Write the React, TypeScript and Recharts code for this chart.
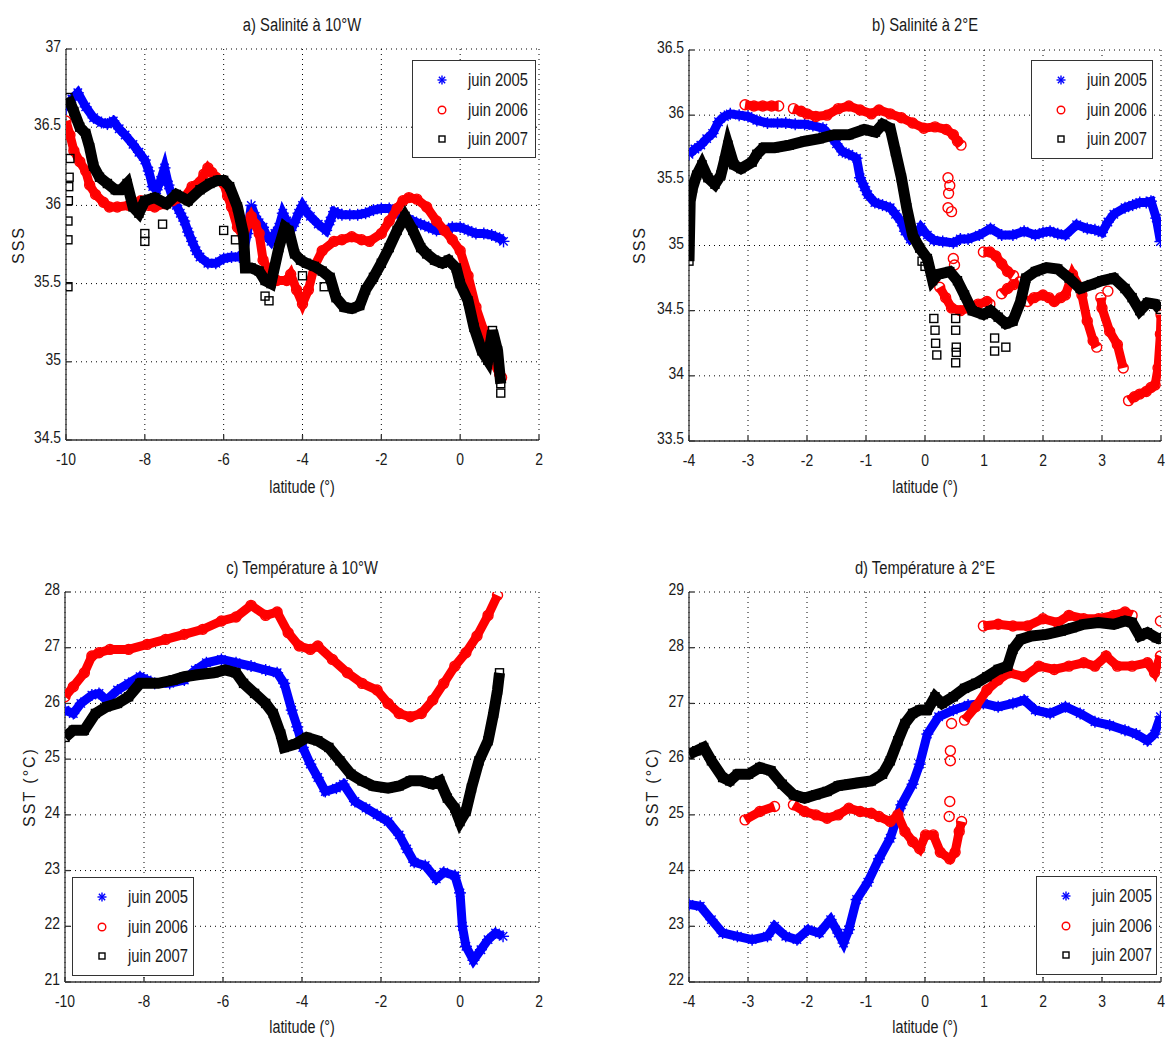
import React from 'react'
import { ScatterChart, Scatter, XAxis, YAxis, CartesianGrid } from 'recharts'

type Pt = [number, number]

// tick values
const latTicksWide = [-10, -8, -6, -4, -2, 0, 2]
const latTicksNarrow = [-4, -3, -2, -1, 0, 1, 2, 3, 4]
const sssTicksA = [34.5, 35, 35.5, 36, 36.5, 37]
const sssTicksB = [33.5, 34, 34.5, 35, 35.5, 36, 36.5]
const sstTicksC = [21, 22, 23, 24, 25, 26, 27, 28]
const sstTicksD = [22, 23, 24, 25, 26, 27, 28, 29]

const legendLabels = ['juin 2005', 'juin 2006', 'juin 2007']

// a) Salinité à 10°W
const sa05: Pt[] = [[-10,36.62],[-9.85,36.68],[-9.7,36.72],[-9.5,36.63],[-9.3,36.56],[-9.1,36.53],[-8.95,36.52],[-8.8,36.54],[-8.65,36.49],[-8.5,36.45],[-8.3,36.39],[-8.15,36.34],[-8.0,36.29],[-7.9,36.22],[-7.8,36.12],[-7.7,36.1],[-7.6,36.16],[-7.5,36.24],[-7.4,36.13],[-7.3,36.05],[-7.2,36.0],[-7.1,35.95],[-7.0,35.9],[-6.9,35.83],[-6.8,35.77],[-6.7,35.71],[-6.6,35.67],[-6.4,35.63],[-6.2,35.63],[-6.0,35.66],[-5.8,35.67],[-5.6,35.67],[-5.5,35.7],[-5.4,35.82],[-5.3,36.0],[-5.2,35.93],[-5.1,35.89],[-5.0,35.86],[-4.9,35.8],[-4.8,35.77],[-4.7,35.82],[-4.6,35.86],[-4.5,35.95],[-4.4,35.9],[-4.3,35.84],[-4.2,35.89],[-4.1,35.95],[-4.0,36.0],[-3.9,35.96],[-3.8,35.93],[-3.6,35.88],[-3.4,35.84],[-3.3,35.9],[-3.2,35.96],[-3.1,35.95],[-3.0,35.94],[-2.8,35.94],[-2.6,35.94],[-2.4,35.95],[-2.2,35.97],[-2.0,35.98],[-1.8,35.98],[-1.6,35.95],[-1.4,35.93],[-1.2,35.9],[-1.0,35.88],[-0.8,35.86],[-0.6,35.84],[-0.4,35.84],[-0.2,35.86],[0,35.86],[0.2,35.84],[0.4,35.82],[0.6,35.82],[0.8,35.81],[1.0,35.79],[1.1,35.77]]
const sa06: Pt[] = [[-10,36.54],[-9.9,36.45],[-9.8,36.35],[-9.65,36.28],[-9.5,36.22],[-9.4,36.13],[-9.25,36.07],[-9.05,36.02],[-8.9,35.99],[-8.7,35.99],[-8.4,36.0],[-8.1,36.03],[-7.9,36.0],[-7.75,35.99],[-7.5,36.01],[-7.3,36.03],[-7.0,36.05],[-6.8,36.12],[-6.6,36.15],[-6.5,36.2],[-6.4,36.24],[-6.3,36.21],[-6.2,36.18],[-6.0,36.14],[-5.9,36.06],[-5.8,35.99],[-5.65,35.86],[-5.5,35.8],[-5.4,35.88],[-5.3,35.93],[-5.2,35.88],[-5.1,35.82],[-5.0,35.65],[-4.85,35.58],[-4.65,35.52],[-4.4,35.52],[-4.3,35.56],[-4.15,35.46],[-4.0,35.37],[-3.85,35.46],[-3.7,35.61],[-3.5,35.71],[-3.2,35.77],[-3.0,35.78],[-2.75,35.8],[-2.5,35.78],[-2.3,35.77],[-2.0,35.82],[-1.8,35.9],[-1.6,35.98],[-1.45,36.03],[-1.3,36.05],[-1.1,36.04],[-0.85,35.99],[-0.6,35.9],[-0.4,35.84],[-0.2,35.78],[0,35.71],[0.2,35.55],[0.4,35.35],[0.6,35.2],[0.8,35.02],[1.0,34.92],[1.05,34.9]]
const sa07: Pt[] = [[-9.95,36.69],[-9.8,36.6],[-9.65,36.5],[-9.5,36.46],[-9.4,36.37],[-9.3,36.25],[-9.15,36.18],[-8.95,36.14],[-8.75,36.1],[-8.6,36.1],[-8.45,36.14],[-8.3,35.99],[-8.15,35.95],[-8.0,36.03],[-7.75,36.05],[-7.45,36.01],[-7.2,36.07],[-6.9,36.03],[-6.6,36.1],[-6.35,36.14],[-6.15,36.16],[-6.0,36.16],[-5.85,36.12],[-5.65,35.99],[-5.5,35.82],[-5.45,35.6],[-5.3,35.6],[-5.1,35.58],[-4.95,35.52],[-4.8,35.5],[-4.6,35.73],[-4.45,35.86],[-4.35,35.84],[-4.2,35.69],[-4.05,35.65],[-3.9,35.63],[-3.7,35.61],[-3.5,35.58],[-3.3,35.54],[-3.15,35.41],[-2.95,35.35],[-2.75,35.34],[-2.55,35.36],[-2.4,35.46],[-2.2,35.54],[-2.0,35.63],[-1.8,35.73],[-1.6,35.84],[-1.4,35.93],[-1.2,35.84],[-1.0,35.73],[-0.85,35.69],[-0.65,35.65],[-0.45,35.63],[-0.3,35.65],[-0.1,35.6],[0,35.5],[0.2,35.39],[0.35,35.22],[0.55,35.07],[0.7,35.01],[0.82,35.2],[0.95,35.07],[1.03,34.86]]
const sa07Stray: Pt[] = [[-9.95,35.48],[-9.95,35.78],[-9.95,35.9],[-9.94,36.03],[-9.93,36.12],[-9.92,36.18],[-9.9,36.3],[-8.0,35.82],[-8.0,35.77],[-7.55,35.88],[-6.0,35.84],[-5.7,35.78],[-4.95,35.42],[-4.85,35.39],[-4.0,35.55],[-3.45,35.48],[1.03,34.8]]

// b) Salinité à 2°E
const sb05: Pt[] = [[-4,35.7],[-3.9,35.74],[-3.8,35.77],[-3.7,35.82],[-3.6,35.86],[-3.5,35.95],[-3.4,35.99],[-3.3,36.01],[-3.15,36.0],[-3.0,35.99],[-2.85,35.96],[-2.67,35.94],[-2.5,35.94],[-2.36,35.94],[-2.2,35.93],[-2.04,35.93],[-1.9,35.92],[-1.73,35.9],[-1.6,35.84],[-1.5,35.78],[-1.4,35.72],[-1.29,35.7],[-1.16,35.67],[-1.1,35.52],[-1.03,35.45],[-0.97,35.39],[-0.85,35.33],[-0.72,35.31],[-0.59,35.29],[-0.5,35.24],[-0.4,35.18],[-0.34,35.11],[-0.25,35.05],[-0.15,35.08],[-0.07,35.14],[0.04,35.08],[0.15,35.04],[0.3,35.03],[0.48,35.02],[0.6,35.05],[0.73,35.05],[0.92,35.08],[1.11,35.13],[1.3,35.08],[1.49,35.08],[1.68,35.11],[1.87,35.08],[2.0,35.1],[2.12,35.11],[2.25,35.09],[2.38,35.08],[2.57,35.16],[2.75,35.13],[2.88,35.12],[3.0,35.1],[3.1,35.18],[3.2,35.24],[3.39,35.29],[3.52,35.31],[3.64,35.33],[3.75,35.33],[3.83,35.34],[3.92,35.21],[3.99,35.03]]
const sb06Parts: Pt[][] = [
  [[-3.05,36.08],[-2.9,36.07],[-2.75,36.07],[-2.6,36.07],[-2.48,36.07]],
  [[-2.23,36.05],[-2.1,36.03],[-2.0,36.01],[-1.85,35.99],[-1.66,36.0],[-1.47,36.05],[-1.29,36.07],[-1.1,36.04],[-0.91,36.01],[-0.78,36.04],[-0.59,36.01],[-0.4,35.98],[-0.21,35.94],[-0.02,35.9],[0.17,35.91],[0.36,35.89],[0.48,35.85],[0.55,35.8],[0.61,35.77]],
  [[0.25,34.68],[0.35,34.6],[0.45,34.52],[0.6,34.5],[0.75,34.52],[0.9,34.55],[1.05,34.57],[1.1,34.55]],
  [[0.99,34.95],[1.1,34.95],[1.2,34.92],[1.3,34.86],[1.4,34.8],[1.5,34.77]],
  [[1.3,34.63],[1.4,34.67],[1.5,34.7],[1.6,34.72]],
  [[1.74,34.57],[1.85,34.6],[2.0,34.62],[2.1,34.6],[2.19,34.57],[2.3,34.6],[2.38,34.62],[2.5,34.78],[2.63,34.67],[2.66,34.62],[2.75,34.42],[2.85,34.27],[2.91,34.22]],
  [[2.98,34.6],[3.0,34.52],[3.13,34.34],[3.26,34.24],[3.36,34.06]],
  [[3.45,33.81],[3.55,33.84],[3.64,33.86],[3.75,33.88],[3.83,33.91],[3.9,33.93],[3.95,34.06],[3.99,34.32],[4.0,34.47]],
]
const sb06Stray: Pt[] = [[0.39,35.52],[0.42,35.46],[0.4,35.4],[0.39,35.29],[0.45,35.26],[0.48,34.9],[0.5,34.85],[3.1,34.65]]
const sb07: Pt[] = [[-4,34.88],[-3.98,35.34],[-3.94,35.44],[-3.87,35.54],[-3.78,35.62],[-3.68,35.52],[-3.56,35.47],[-3.46,35.54],[-3.4,35.65],[-3.34,35.77],[-3.24,35.62],[-3.12,35.59],[-2.93,35.64],[-2.85,35.7],[-2.74,35.75],[-2.55,35.75],[-2.3,35.77],[-2.04,35.8],[-1.79,35.82],[-1.54,35.85],[-1.29,35.85],[-1.03,35.89],[-0.84,35.87],[-0.72,35.93],[-0.59,35.9],[-0.5,35.72],[-0.4,35.52],[-0.31,35.29],[-0.21,35.08],[-0.09,34.98],[0.04,34.9],[0.13,34.73],[0.23,34.78],[0.42,34.8],[0.55,34.73],[0.67,34.62],[0.8,34.5],[0.99,34.47],[1.11,34.5],[1.24,34.45],[1.37,34.4],[1.49,34.42],[1.62,34.57],[1.71,34.75],[1.87,34.8],[2.06,34.83],[2.25,34.82],[2.44,34.75],[2.63,34.67],[2.82,34.7],[3.0,34.73],[3.2,34.75],[3.39,34.67],[3.51,34.6],[3.64,34.5],[3.77,34.56],[3.9,34.55],[3.99,34.51]]
const sb07Stray: Pt[] = [[-0.05,34.88],[0.0,34.84],[0.15,34.44],[0.17,34.35],[0.18,34.25],[0.2,34.16],[0.52,34.44],[0.52,34.35],[0.53,34.22],[0.53,34.18],[0.52,34.1],[1.18,34.29],[1.18,34.19],[1.37,34.22]]

// c) Température à 10°W
const sc05: Pt[] = [[-10,25.88],[-9.79,25.82],[-9.6,26.0],[-9.32,26.15],[-9.14,26.18],[-8.95,26.06],[-8.67,26.24],[-8.39,26.36],[-8.1,26.48],[-7.92,26.42],[-7.73,26.36],[-7.35,26.36],[-6.98,26.42],[-6.7,26.6],[-6.42,26.73],[-6.04,26.79],[-5.67,26.73],[-5.29,26.67],[-4.92,26.6],[-4.63,26.55],[-4.45,26.36],[-4.26,25.88],[-4.12,25.58],[-3.98,25.21],[-3.79,24.91],[-3.6,24.67],[-3.41,24.42],[-3.13,24.48],[-2.95,24.55],[-2.66,24.24],[-2.38,24.12],[-2.1,24.0],[-1.82,23.88],[-1.54,23.64],[-1.35,23.39],[-1.16,23.15],[-0.88,23.09],[-0.6,22.85],[-0.41,22.97],[-0.13,22.91],[0,22.6],[0.06,22.0],[0.15,21.64],[0.34,21.39],[0.53,21.58],[0.71,21.76],[0.9,21.88],[1.09,21.82]]
const sc06: Pt[] = [[-10,26.12],[-9.79,26.3],[-9.51,26.55],[-9.32,26.85],[-9.14,26.91],[-8.86,26.97],[-8.39,26.97],[-7.92,27.06],[-7.45,27.15],[-6.98,27.24],[-6.51,27.33],[-6.04,27.48],[-5.67,27.55],[-5.29,27.76],[-4.92,27.58],[-4.63,27.64],[-4.35,27.27],[-4.07,27.03],[-3.79,26.97],[-3.6,27.03],[-3.23,26.79],[-2.85,26.55],[-2.48,26.36],[-2.1,26.24],[-1.82,26.0],[-1.54,25.82],[-1.26,25.76],[-0.98,25.82],[-0.69,26.06],[-0.41,26.36],[-0.13,26.67],[0.15,26.91],[0.43,27.21],[0.71,27.58],[0.95,27.94]]
const sc07: Pt[] = [[-10,25.39],[-9.79,25.52],[-9.51,25.52],[-9.23,25.82],[-8.95,25.94],[-8.67,26.0],[-8.39,26.12],[-8.1,26.36],[-7.92,26.36],[-7.64,26.36],[-7.26,26.42],[-6.98,26.48],[-6.6,26.52],[-6.23,26.55],[-5.95,26.6],[-5.67,26.55],[-5.48,26.36],[-5.2,26.18],[-4.92,26.0],[-4.73,25.82],[-4.54,25.45],[-4.45,25.21],[-4.17,25.27],[-3.88,25.39],[-3.6,25.33],[-3.32,25.21],[-3.04,24.97],[-2.76,24.73],[-2.48,24.61],[-2.2,24.52],[-1.82,24.48],[-1.54,24.52],[-1.26,24.61],[-0.98,24.61],[-0.69,24.55],[-0.51,24.61],[-0.32,24.3],[-0.13,24.12],[0,23.88],[0.15,24.06],[0.29,24.48],[0.48,24.97],[0.71,25.33],[0.85,25.82],[0.95,26.24],[1.0,26.55]]

// d) Température à 2°E
const sd05: Pt[] = [[-4,23.39],[-3.81,23.36],[-3.62,23.12],[-3.43,22.88],[-3.18,22.82],[-2.93,22.76],[-2.67,22.82],[-2.55,23.0],[-2.36,22.82],[-2.17,22.76],[-1.98,22.94],[-1.79,22.88],[-1.6,23.12],[-1.47,22.88],[-1.38,22.7],[-1.29,22.94],[-1.16,23.48],[-0.97,23.79],[-0.78,24.21],[-0.59,24.58],[-0.4,25.18],[-0.21,25.55],[-0.09,25.91],[0.04,26.45],[0.23,26.76],[0.48,26.88],[0.73,26.97],[0.99,27.0],[1.24,26.94],[1.49,27.0],[1.68,27.06],[1.87,26.88],[2.12,26.82],[2.38,26.94],[2.63,26.82],[2.88,26.67],[3.13,26.61],[3.39,26.52],[3.58,26.45],[3.77,26.33],[3.89,26.45],[3.99,26.76]]
const sd06Parts: Pt[][] = [
  [[-3.05,24.91],[-2.8,25.06],[-2.55,25.15]],
  [[-2.23,25.18],[-2.04,25.06],[-1.85,25.0],[-1.66,24.94],[-1.47,25.0],[-1.29,25.12],[-1.1,25.06],[-0.91,25.03],[-0.78,24.97],[-0.59,24.88],[-0.46,25.0],[-0.34,24.7],[-0.21,24.52],[-0.09,24.39],[0.01,24.64],[0.14,24.64],[0.26,24.33],[0.42,24.21],[0.51,24.33],[0.58,24.7],[0.62,24.88]],
  [[0.67,26.7],[0.86,26.94],[1.05,27.24],[1.24,27.42],[1.43,27.55],[1.68,27.48],[1.93,27.67],[2.19,27.61],[2.44,27.67],[2.69,27.73],[2.88,27.67],[3.07,27.85],[3.26,27.67],[3.51,27.67],[3.77,27.73],[3.89,27.55],[3.99,27.85]],
  [[0.99,28.39],[1.24,28.42],[1.49,28.39],[1.74,28.39],[2.0,28.52],[2.25,28.45],[2.44,28.58],[2.69,28.52],[2.94,28.52],[3.2,28.58],[3.39,28.64],[3.51,28.58]],
]
const sd06Stray: Pt[] = [[0.42,25.24],[0.41,24.97],[0.43,25.97],[0.43,26.15],[0.45,26.64],[3.99,28.48]]
const sd07: Pt[] = [[-4,26.09],[-3.87,26.15],[-3.75,26.21],[-3.62,25.97],[-3.43,25.67],[-3.31,25.61],[-3.18,25.73],[-2.99,25.73],[-2.8,25.85],[-2.61,25.79],[-2.42,25.55],[-2.23,25.36],[-2.04,25.3],[-1.85,25.36],[-1.66,25.42],[-1.47,25.52],[-1.29,25.55],[-1.1,25.58],[-0.91,25.61],[-0.72,25.73],[-0.59,25.97],[-0.46,26.33],[-0.34,26.64],[-0.21,26.82],[-0.09,26.88],[0.04,26.88],[0.17,27.12],[0.29,27.0],[0.48,27.12],[0.67,27.27],[0.86,27.36],[1.05,27.48],[1.24,27.61],[1.4,27.67],[1.49,27.97],[1.62,28.15],[1.81,28.21],[2.06,28.24],[2.31,28.3],[2.5,28.36],[2.69,28.42],[2.94,28.45],[3.2,28.42],[3.39,28.48],[3.51,28.45],[3.64,28.21],[3.77,28.27],[3.92,28.18],[4.0,28.15]]

// Liberation Sans squeezed horizontally stands in for the narrow MATLAB font
const FONT = '"Liberation Sans", Arial, sans-serif'
const SQUEEZE = 0.82
const TEXT = '#1a1a1a'
const BLUE = '#0000ff'
const RED = '#ff0000'
const BLACK = '#000000'

type Kind = 'star' | 'circle' | 'square'
const COLORS: Record<Kind, string> = { star: BLUE, circle: RED, square: BLACK }
const LINE_W: Record<Kind, number> = { star: 9, circle: 9, square: 11 }

const toXY = (pts: Pt[]) => pts.map(([x, y]) => ({ x, y }))

function Marker({ kind, cx, cy, big = false }: { kind: Kind; cx: number; cy: number; big?: boolean }) {
  if (kind === 'star') {
    const r = big ? 6 : 4.5
    const d = r * 0.7
    return (
      <g stroke={BLUE} strokeWidth={1.4}>
        <line x1={cx - r} y1={cy} x2={cx + r} y2={cy} />
        <line x1={cx} y1={cy - r} x2={cx} y2={cy + r} />
        <line x1={cx - d} y1={cy - d} x2={cx + d} y2={cy + d} />
        <line x1={cx - d} y1={cy + d} x2={cx + d} y2={cy - d} />
      </g>
    )
  }
  if (kind === 'circle') return <circle cx={cx} cy={cy} r={big ? 5 : 3.8} fill="none" stroke={RED} strokeWidth={1.4} />
  const s = big ? 8 : 6
  return <rect x={cx - s / 2} y={cy - s / 2} width={s} height={s} fill="none" stroke={BLACK} strokeWidth={1.4} />
}

const shapeFor = (kind: Kind) => (props: any) => {
  if (props.cx == null || props.cy == null) return <g />
  return <Marker kind={kind} cx={props.cx} cy={props.cy} big />
}

// axis tick labels, squeezed to look like the narrow font of the original
const XTick = (props: any) => {
  const { x, y, payload } = props
  return (
    <text transform={`translate(${x},${y}) scale(${SQUEEZE},1)`} textAnchor="middle" dy="0.75em"
      fill={TEXT} fontSize={17} fontFamily={FONT}>{payload.value}</text>
  )
}
const YTick = (props: any) => {
  const { x, y, payload } = props
  return (
    <text transform={`translate(${x},${y - 3}) scale(${SQUEEZE},1)`} textAnchor="end" dy="0.36em"
      fill={TEXT} fontSize={17} fontFamily={FONT}>{payload.value}</text>
  )
}

interface Series {
  kind: Kind
  parts: Pt[][]
  stray?: Pt[]
}

interface Box { x0: number; y0: number; x1: number; y1: number }
interface Frame { x: number; y: number; w: number; h: number }

interface PanelProps {
  frame: Frame
  plot: Box
  xDomain: [number, number]
  xTicks: number[]
  yDomain: [number, number]
  yTicks: number[]
  series: Series[]
}

const YW = 50
const XH = 30

function Panel({ frame, plot, xDomain, xTicks, yDomain, yTicks, series }: PanelProps) {
  const margin = {
    top: plot.y0 - frame.y,
    right: frame.x + frame.w - plot.x1,
    bottom: frame.y + frame.h - plot.y1 - XH,
    left: plot.x0 - frame.x - YW,
  }
  const axisStroke = { stroke: '#333', strokeWidth: 1.3 }
  return (
    <div style={{ position: 'absolute', left: frame.x, top: frame.y }}>
      <ScatterChart width={frame.w} height={frame.h} margin={margin}>
        <CartesianGrid stroke="#000" strokeDasharray="1 4" strokeWidth={1} />
        <XAxis type="number" dataKey="x" domain={xDomain} ticks={xTicks} allowDataOverflow
          height={XH} tickSize={-5} tickMargin={17} tick={<XTick />} axisLine={axisStroke} tickLine={axisStroke} />
        <XAxis xAxisId="top" orientation="top" type="number" dataKey="x" domain={xDomain} ticks={xTicks} allowDataOverflow
          height={0} tickSize={-5} tick={false} axisLine={axisStroke} tickLine={axisStroke} />
        <YAxis type="number" dataKey="y" domain={yDomain} ticks={yTicks} allowDataOverflow
          width={YW} tickSize={-5} tickMargin={10} tick={<YTick />} axisLine={axisStroke} tickLine={axisStroke} />
        <YAxis yAxisId="right" orientation="right" type="number" dataKey="y" domain={yDomain} ticks={yTicks} allowDataOverflow
          width={0} tickSize={-5} tick={false} axisLine={axisStroke} tickLine={axisStroke} />
        {series.flatMap((s, si) => [
          ...s.parts.map((part, pi) => (
            <Scatter key={`s${si}-${pi}`} data={toXY(part)} fill={COLORS[s.kind]} shape={shapeFor(s.kind)}
              line={{ stroke: COLORS[s.kind], strokeWidth: LINE_W[s.kind] }} lineType="joint" isAnimationActive={false} />
          )),
          ...(s.stray ? [
            <Scatter key={`s${si}-stray`} data={toXY(s.stray)} fill={COLORS[s.kind]} shape={shapeFor(s.kind)} isAnimationActive={false} />,
          ] : []),
        ])}
      </ScatterChart>
    </div>
  )
}

function Legend({ x, y, w, h }: { x: number; y: number; w: number; h: number }) {
  const kinds: Kind[] = ['star', 'circle', 'square']
  const rows = [20, 50, 79]
  return (
    <div style={{ position: 'absolute', left: x, top: y, width: w, height: h, border: '1.5px solid #333', background: '#fff', boxSizing: 'border-box' }}>
      {kinds.map((k, i) => (
        <React.Fragment key={k}>
          <svg width={14} height={14} style={{ position: 'absolute', left: 22, top: rows[i] - 8 }}>
            <Marker kind={k} cx={7} cy={7} />
          </svg>
          <div style={{
            position: 'absolute', left: 55, top: rows[i] - 11, fontFamily: FONT, fontSize: 18, lineHeight: '20px',
            color: TEXT, whiteSpace: 'nowrap', transform: `scaleX(${SQUEEZE})`, transformOrigin: 'left center',
          }}>
            {legendLabels[i]}
          </div>
        </React.Fragment>
      ))}
    </div>
  )
}

function Txt({ x, y, children, rotate = false, size = 17.5, squeeze = SQUEEZE, spacing = 0 }: any) {
  return (
    <div style={{
      position: 'absolute', left: x, top: y,
      transform: `translate(-50%, -50%)${rotate ? ' rotate(-90deg)' : ''} scaleX(${squeeze})`,
      fontFamily: FONT, fontSize: size, color: TEXT, whiteSpace: 'nowrap', lineHeight: 1, letterSpacing: spacing,
    }}>{children}</div>
  )
}

export default function App() {
  const pa: Box = { x0: 66, y0: 49, x1: 539, y1: 440 }
  const pb: Box = { x0: 689, y0: 50, x1: 1161, y1: 441 }
  const pc: Box = { x0: 65, y0: 592, x1: 539, y1: 982 }
  const pd: Box = { x0: 689, y0: 592, x1: 1161, y1: 982 }
  return (
    <div style={{ position: 'absolute', left: 0, top: 0, width: 1165, height: 1039, background: '#fff', overflow: 'hidden' }}>
      <Panel frame={{ x: 0, y: 0, w: 580, h: 515 }} plot={pa} xDomain={[-10, 2]} xTicks={latTicksWide} yDomain={[34.5, 37]} yTicks={sssTicksA}
        series={[{ kind: 'star', parts: [sa05] }, { kind: 'circle', parts: [sa06] }, { kind: 'square', parts: [sa07], stray: sa07Stray }]} />
      <Panel frame={{ x: 580, y: 0, w: 585, h: 515 }} plot={pb} xDomain={[-4, 4]} xTicks={latTicksNarrow} yDomain={[33.5, 36.5]} yTicks={sssTicksB}
        series={[{ kind: 'star', parts: [sb05] }, { kind: 'circle', parts: sb06Parts, stray: sb06Stray }, { kind: 'square', parts: [sb07], stray: sb07Stray }]} />
      <Panel frame={{ x: 0, y: 515, w: 580, h: 524 }} plot={pc} xDomain={[-10, 2]} xTicks={latTicksWide} yDomain={[21, 28]} yTicks={sstTicksC}
        series={[{ kind: 'star', parts: [sc05] }, { kind: 'circle', parts: [sc06] }, { kind: 'square', parts: [sc07] }]} />
      <Panel frame={{ x: 580, y: 515, w: 585, h: 524 }} plot={pd} xDomain={[-4, 4]} xTicks={latTicksNarrow} yDomain={[22, 29]} yTicks={sstTicksD}
        series={[{ kind: 'star', parts: [sd05] }, { kind: 'circle', parts: sd06Parts, stray: sd06Stray }, { kind: 'square', parts: [sd07] }]} />

      <Txt x={302} y={25} size={18}>a) Salinité à 10°W</Txt>
      <Txt x={925} y={25} size={18}>b) Salinité à 2°E</Txt>
      <Txt x={302} y={568} size={18}>c) Température à 10°W</Txt>
      <Txt x={925} y={568} size={18}>d) Température à 2°E</Txt>

      <Txt x={302} y={488}>latitude (°)</Txt>
      <Txt x={925} y={488}>latitude (°)</Txt>
      <Txt x={302} y={1028}>latitude (°)</Txt>
      <Txt x={925} y={1028}>latitude (°)</Txt>

      <Txt x={19} y={245} rotate size={16} squeeze={1} spacing={2}>SSS</Txt>
      <Txt x={640} y={245} rotate size={16} squeeze={1} spacing={2}>SSS</Txt>
      <Txt x={30} y={787} rotate size={16} squeeze={1} spacing={2}>SST (°C)</Txt>
      <Txt x={653} y={787} rotate size={16} squeeze={1} spacing={2}>SST (°C)</Txt>

      <Legend x={412} y={60} w={124} h={98} />
      <Legend x={1031} y={60} w={122} h={99} />
      <Legend x={72} y={877} w={122} h={99} />
      <Legend x={1036} y={876} w={121} h={99} />
    </div>
  )
}
